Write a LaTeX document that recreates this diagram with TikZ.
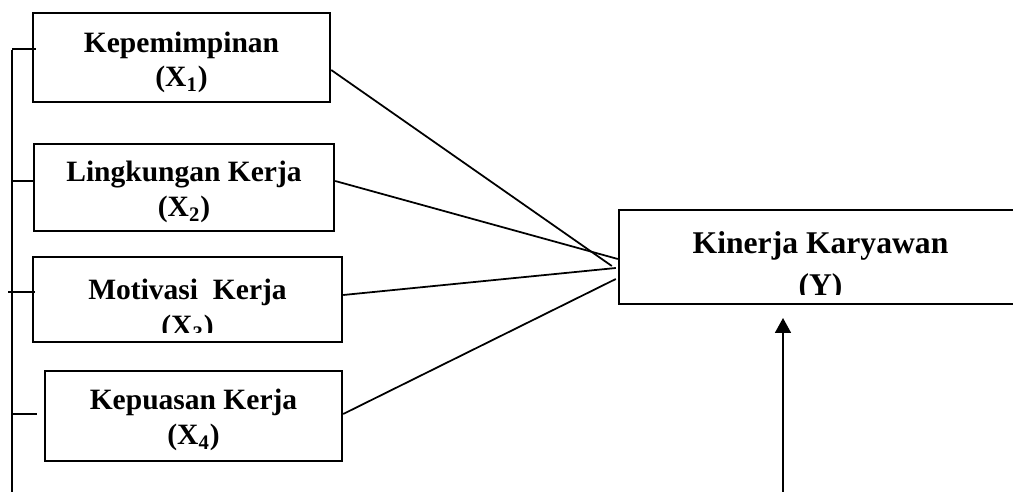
\documentclass[tikz,border=0pt]{standalone}
\usepackage{fontspec}
\setmainfont{Liberation Serif}
\usetikzlibrary{calc,arrows.meta}

\tikzset{
  var/.style={draw, line width=1.4pt, inner sep=0pt},
  txt/.style={font=\fontsize{16.8}{20}\selectfont\bfseries, inner sep=0pt, anchor=base},
  bigtxt/.style={font=\fontsize{18}{22}\selectfont\bfseries, inner sep=0pt, anchor=base},
  link/.style={line width=1pt}
}

\begin{document}
\begin{tikzpicture}[x=0.02cm, y=-0.02cm]
\useasboundingbox (0,0) rectangle (1013,492);
% kotak variabel bebas
\node[var, minimum width=5.94cm, minimum height=1.78cm] (x1) at (181.5,57.5) {};
\node[var, minimum width=6.00cm, minimum height=1.74cm] (x2) at (184,187.5) {};
\node[var, minimum width=6.18cm, minimum height=1.70cm] (x3) at (187.5,299.5) {};
\node[var, minimum width=5.94cm, minimum height=1.80cm] (x4) at (193.5,416) {};
% kotak variabel terikat
\node[var, minimum width=8.06cm, minimum height=1.88cm] (y) at (820.5,257) {};

% teks
\node[txt] (x1a) at (181.5,53) {Kepemimpinan};
\node[txt] (x1b) at (181.5,87) {(X\textsubscript{1})};
\node[txt] (x2a) at (184,182) {Lingkungan Kerja};
\node[txt] (x2b) at (184,217) {(X\textsubscript{2})};
\node[txt] (x3a) at (187.5,300) {Motivasi~ Kerja};
\begin{scope}
  \clip (x3.north west) rectangle ($(x3.south east)+(0,-11)$);
  \node[txt] (x3b) at (187.5,336) {(X\textsubscript{3})};
\end{scope}
\node[txt] (x4a) at (193.5,410) {Kepuasan Kerja};
\node[txt] (x4b) at (193.5,445) {(X\textsubscript{4})};
\node[bigtxt] (ya) at (820.5,254) {Kinerja Karyawan};
\begin{scope}
  \clip (y.north west) rectangle ($(y.south east)+(0,-11)$);
  \node[bigtxt] (yb) at (820.5,296) {(Y)};
\end{scope}

% garis ke Y
\coordinate (e1) at ($(y.west)+(-6,9)$);
\coordinate (e2) at ($(y.west)+(0,2)$);
\coordinate (e3) at ($(y.west)+(-2,11)$);
\coordinate (e4) at ($(y.west)+(-2,22)$);
\draw[link] ($(x1.east)+(0,12.5)$) -- (e1);
\draw[link] ($(x2.east)+(0,-6.5)$) -- (e2);
\draw[link] ($(x3.east)+(0,-4.5)$) -- (e3);
\draw[link] ($(x4.east)+(0,-2)$) -- (e4);

% garis samping
\coordinate (bt) at (12,50);
\coordinate (bb) at (12,492);
\draw[link] (bt) -- (bb);
\draw[link] (12,49) -- ($(x1.west)+(4,-8.5)$);
\draw[link] (12,181) -- ($(x2.west)+(0,-6.5)$);
\draw[link] (8,292) -- ($(x3.west)+(3,-7.5)$);
\draw[link] (13,414) -- ($(x4.west)+(-7,-2)$);

% panah dari bawah
\coordinate (ab) at (783,492);
\coordinate (at) at (783,318);
\draw[link, -{Triangle[width=0.32cm, length=0.3cm]}] (ab) -- (at);
\end{tikzpicture}
\end{document}
